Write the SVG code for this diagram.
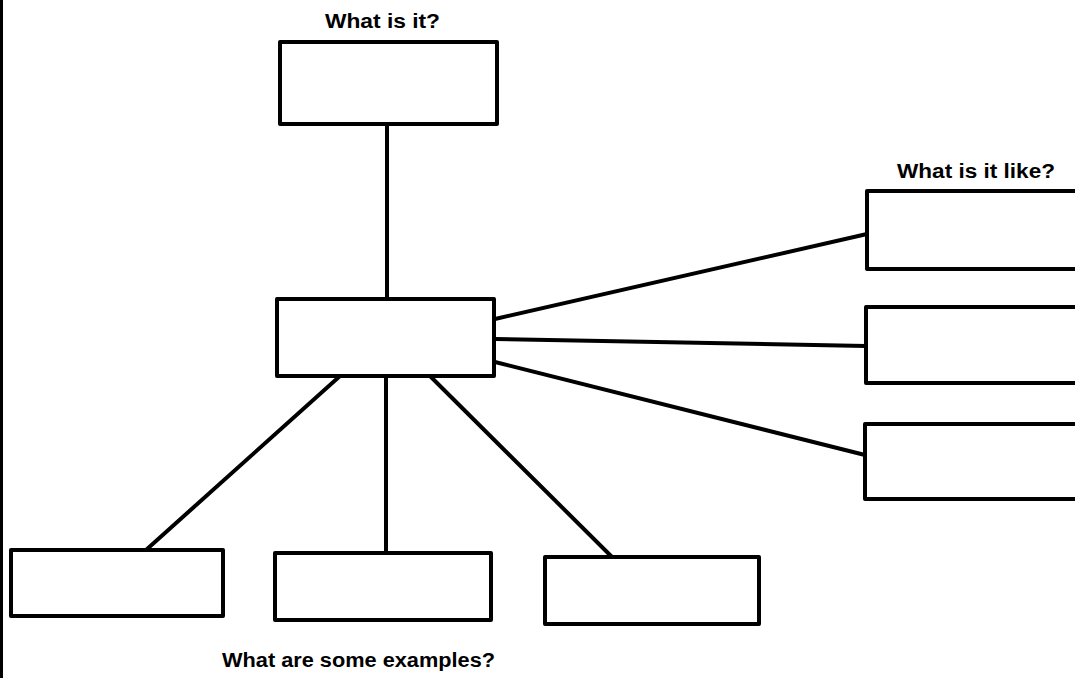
<svg xmlns="http://www.w3.org/2000/svg" width="1075" height="678" viewBox="0 0 1075 678">
<style>
.box{fill:#fff;stroke:#000;stroke-width:4;stroke-linejoin:round}
.ln{stroke:#000;stroke-width:4;stroke-linecap:round;fill:none}
.lbl{font-family:"Liberation Sans",Arial,sans-serif;font-weight:bold;font-size:20px;fill:#000}
</style>
<rect x="0" y="0" width="1075" height="678" fill="#fff"/>
<rect x="0" y="0" width="3" height="678" fill="#000"/>
<g id="connectors">
<line class="ln" x1="387" y1="124" x2="387" y2="299"/>
<line class="ln" x1="495" y1="319" x2="867" y2="234"/>
<line class="ln" x1="495" y1="339" x2="866" y2="346"/>
<line class="ln" x1="495" y1="362" x2="865" y2="455"/>
<line class="ln" x1="340" y1="376" x2="146" y2="550"/>
<line class="ln" x1="386" y1="376" x2="386" y2="553"/>
<line class="ln" x1="430" y1="376" x2="611" y2="556"/>
</g>
<g id="label-what-is-it"><text class="lbl" x="325" y="28" textLength="115" lengthAdjust="spacingAndGlyphs">What is it?</text></g>
<g id="label-what-is-it-like"><text class="lbl" x="897" y="178" textLength="158" lengthAdjust="spacingAndGlyphs">What is it like?</text></g>
<g id="label-examples"><text class="lbl" x="222" y="667" textLength="273" lengthAdjust="spacingAndGlyphs">What are some examples?</text></g>
<g id="node-top"><rect class="box" x="280" y="42" width="217" height="82"/></g>
<g id="node-center"><rect class="box" x="277" y="299" width="217" height="77"/></g>
<g id="node-right1"><rect class="box" x="867" y="191" width="215" height="78"/></g>
<g id="node-right2"><rect class="box" x="866" y="307" width="215" height="76"/></g>
<g id="node-right3"><rect class="box" x="865" y="424" width="215" height="75"/></g>
<g id="node-bottom1"><rect class="box" x="11" y="550" width="212" height="66"/></g>
<g id="node-bottom2"><rect class="box" x="275" y="553" width="216" height="67"/></g>
<g id="node-bottom3"><rect class="box" x="545" y="557" width="214" height="67"/></g>
</svg>
